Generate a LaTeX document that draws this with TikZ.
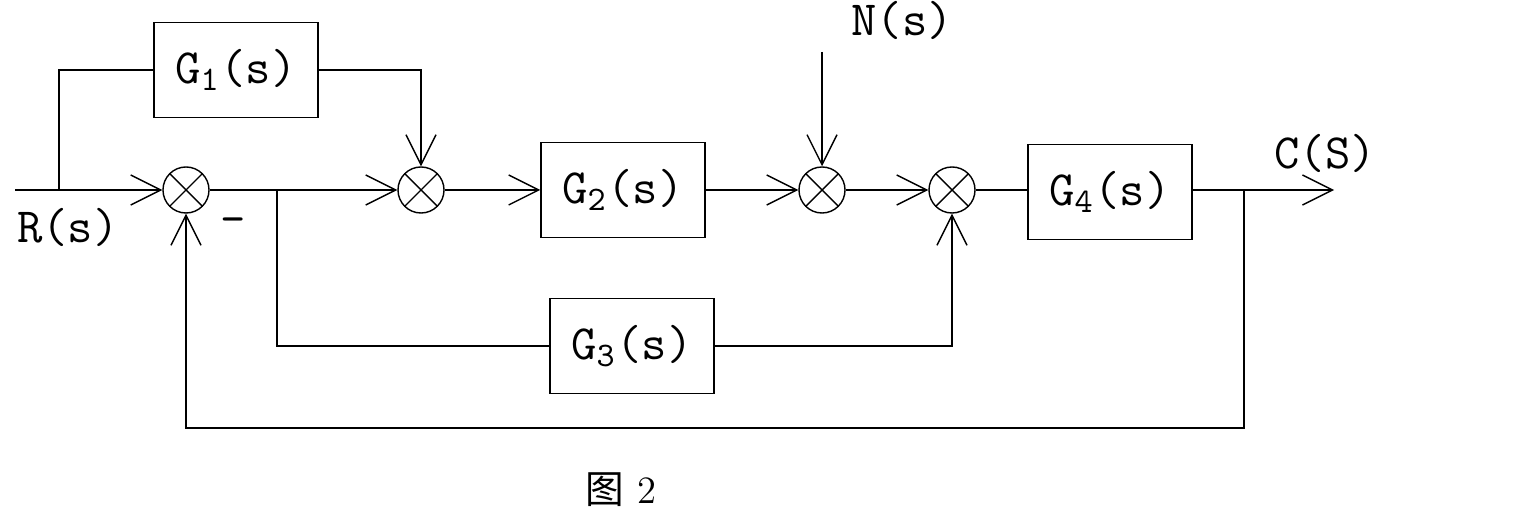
\documentclass[tikz,border=0pt]{standalone}
\usepackage{fontspec}
\newfontfamily\cjk{Noto Sans CJK SC}
\usetikzlibrary{positioning, arrows.meta}

\begin{document}
\begin{tikzpicture}[
        x=0.01cm, y=-0.01cm,
every node/.style = {font=\ttfamily\fontsize{14}{16}\selectfont},
        >/.tip = {Straight Barb[length=3mm, width=3mm]},
      block/.style = {rectangle, draw, minimum width=16.4mm, minimum height=9.5mm},
    sumnode/.style = {circle, draw, minimum size=4.6mm, inner sep=0pt,
                      path picture={\draw (path picture bounding box.north west) -- (path picture bounding box.south east)
                                          (path picture bounding box.north east) -- (path picture bounding box.south west);}},
      label/.style = {inner sep=1pt}
                        ]
\useasboundingbox (0,0) rectangle (1540,510);
\coordinate (in) at (15,190);
\coordinate (br1) at (59,190);
\node (sum1) [sumnode] at (186,190) {};
\node (g1) [block] at (236,70) {G\textsubscript{1}(s)};
\coordinate (br2) at (277,190);
\node (sum2) [sumnode] at (421,190) {};
\node (g2) [block] at (623,190) {G\textsubscript{2}(s)};
\node (sum3) [sumnode] at (822,190) {};
\node (sum4) [sumnode] at (952,190) {};
\node (g4) [block] at (1110,192) {G\textsubscript{4}(s)};
\coordinate (br3) at (1244,190);
\coordinate (out) at (1334,190);
\node (g3) [block] at (632,346) {G\textsubscript{3}(s)};
\coordinate (fb) at (1244,428);
\coordinate (nin) at (822,52);
\node (nlab) [label] at (902,20) {N(s)};
\node (rlab) [label] at (68,227) {R(s)};
\node (clab) [label] at (1325,153) {C(S)};
\node (minus) [label] at (233,226) {\textendash};
\node (cap) [label, font=\fontsize{11}{13}\selectfont] at (621,490) {{\cjk 图} 2};
\draw[->] (in) -- (sum1);
\draw (br1) |- (g1);
\draw[->] (g1) -| (sum2);
\draw[->] (sum1) -- (sum2);
\draw (br2) |- (g3);
\draw[->] (g3) -| (sum4);
\draw[->] (sum2) -- (g2);
\draw[->] (g2) -- (sum3);
\draw[->] (nin) -- (sum3);
\draw[->] (sum3) -- (sum4);
\draw (sum4) -- (sum4 -| g4.west);
\draw[->] (g4.east |- out) -- (out);
\draw[->] (br3) -- (fb) -| (sum1);
\end{tikzpicture}
\end{document}
